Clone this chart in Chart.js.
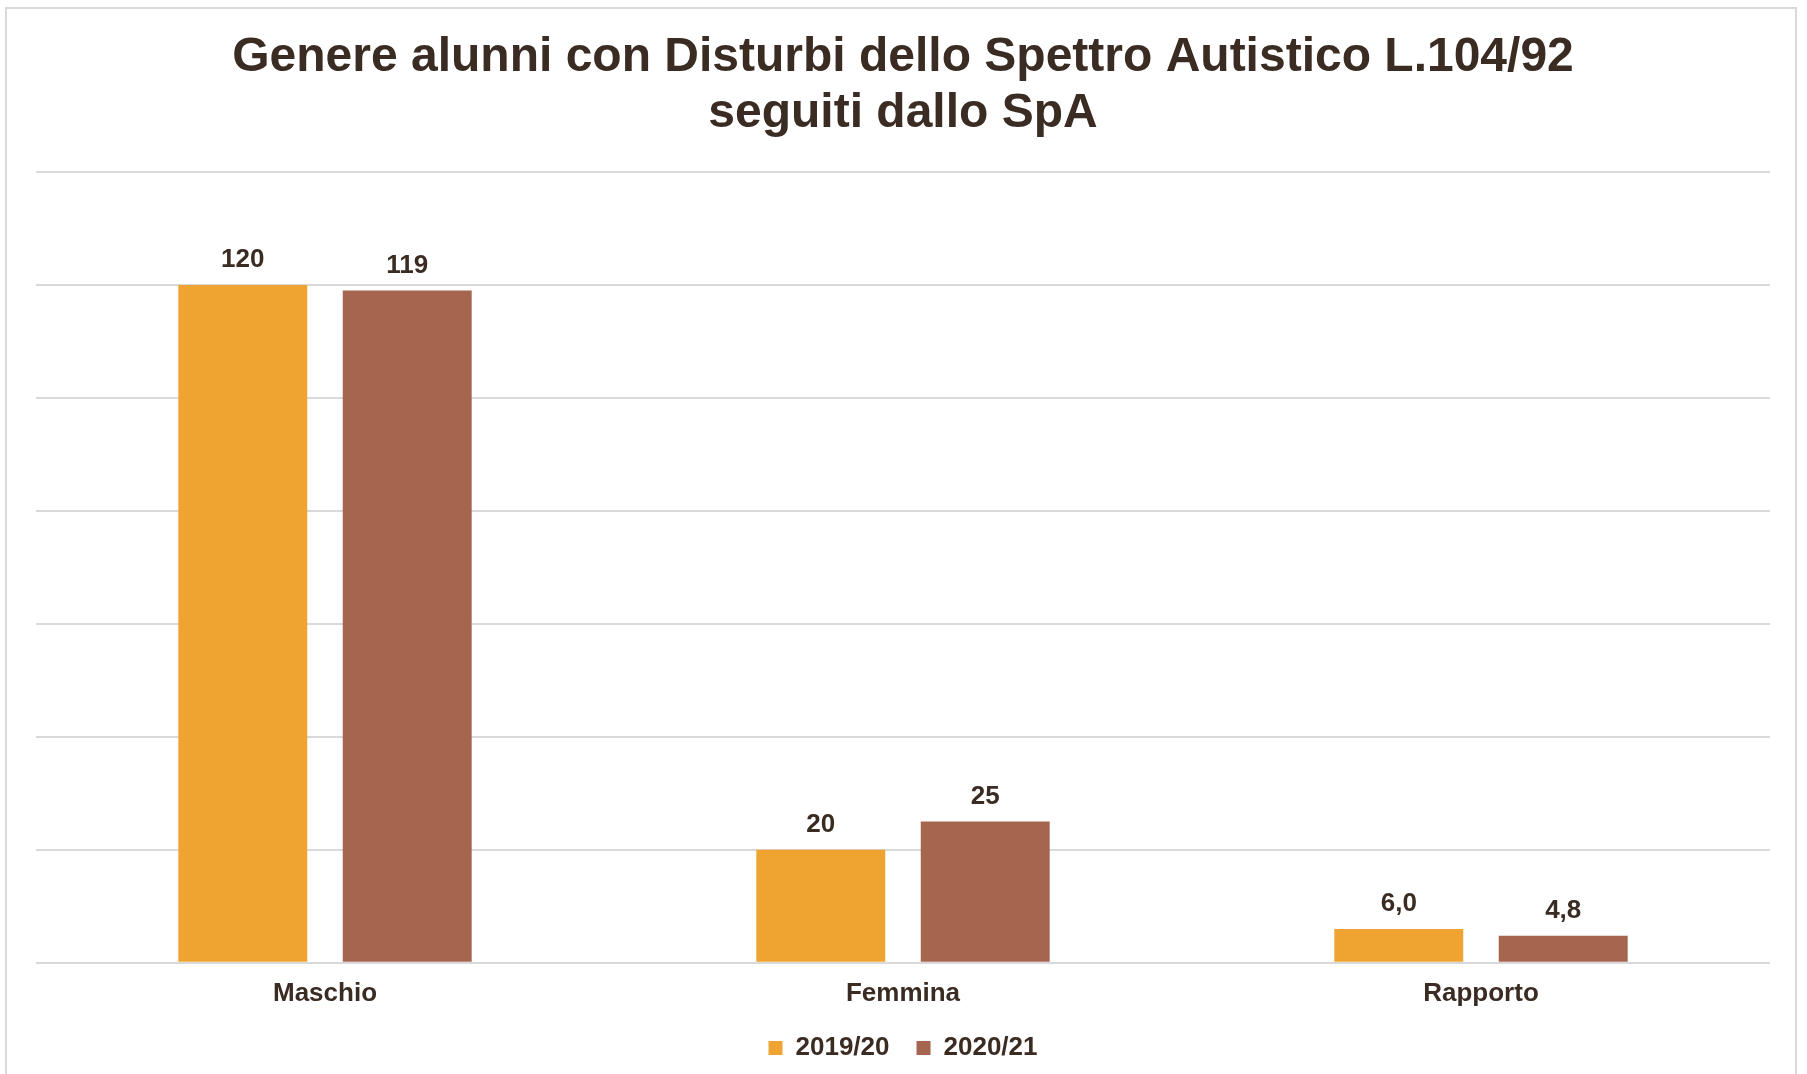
<!DOCTYPE html>
<html lang="it">
<head>
    <meta charset="UTF-8">
    <title>Genere alunni con Disturbi dello Spettro Autistico</title>
    <script src="https://cdn.jsdelivr.net/npm/chart.js"></script>
    <style>
        body { margin: 0; background: #fff; overflow: hidden; }
        .frame {
            position: absolute; left: 5px; top: 7px; width: 1792px; height: 1080px;
            border: 2px solid #d9d9d9; box-sizing: border-box;
        }
        .chart-container { position: absolute; left: 0; top: 0; width: 1807px; height: 1074px; }
    </style>
</head>
<body>
<div class="frame"></div>
<div class="chart-container">
    <canvas id="genere-chart"></canvas>
</div>
<script>
    // dati
    const categorie = ['Maschio', 'Femmina', 'Rapporto'];
    const anno2019 = [120, 20, 6.0];
    const anno2020 = [119, 25, 4.8];
    const decimali = [0, 0, 1];
    const yTicks = [0, 20, 40, 60, 80, 100, 120, 140];

    const testoScuro = '#3b2c23';

    // etichette sopra le barre
    const etichetteBarre = {
        id: 'etichetteBarre',
        afterDatasetsDraw(chart) {
            const ctx = chart.ctx;
            ctx.save();
            ctx.font = 'bold 26px "Liberation Sans", Arial, sans-serif';
            ctx.fillStyle = testoScuro;
            ctx.textAlign = 'center';
            ctx.textBaseline = 'alphabetic';
            chart.data.datasets.forEach((ds, i) => {
                chart.getDatasetMeta(i).data.forEach((bar, j) => {
                    const txt = ds.data[j].toFixed(decimali[j]).replace('.', ',');
                    ctx.fillText(txt, bar.x, bar.y - 18);
                });
            });
            ctx.restore();
        }
    };

    const ctx = document.getElementById('genere-chart').getContext('2d');
    new Chart(ctx, {
        type: 'bar',
        data: {
            labels: categorie,
            datasets: [{
                label: '2019/20',
                data: anno2019,
                backgroundColor: '#efa330'
            }, {
                label: '2020/21',
                data: anno2020,
                backgroundColor: '#a5654f'
            }]
        },
        options: {
            responsive: true,
            maintainAspectRatio: false,
            animation: false,
            datasets: {
                bar: { categoryPercentage: 0.569, barPercentage: 0.784 }
            },
            layout: { padding: { left: 36, right: 37, top: 0, bottom: 3 } },
            scales: {
                x: {
                    grid: { display: false, drawTicks: false },
                    border: { display: false },
                    afterFit: (scale) => { scale.height -= 16; },
                    ticks: {
                        padding: 15,
                        color: testoScuro,
                        font: { family: '"Liberation Sans", Arial, sans-serif', size: 26, weight: 'bold' }
                    }
                },
                y: {
                    min: 0,
                    max: 140,
                    afterBuildTicks: (scale) => { scale.ticks = yTicks.map(v => ({ value: v })); },
                    grid: { color: '#d9d9d9', lineWidth: 2, drawTicks: false },
                    border: { display: false },
                    ticks: { display: false }
                }
            },
            plugins: {
                title: {
                    display: true,
                    text: ['Genere alunni con Disturbi dello Spettro Autistico L.104/92', 'seguiti dallo SpA'],
                    color: testoScuro,
                    font: { family: '"Liberation Sans", Arial, sans-serif', size: 48, weight: 'bold', lineHeight: 1.1667 },
                    padding: { top: 30, bottom: 30 }
                },
                legend: {
                    position: 'bottom',
                    labels: {
                        boxWidth: 14,
                        boxHeight: 14,
                        padding: 27,
                        color: testoScuro,
                        font: { family: '"Liberation Sans", Arial, sans-serif', size: 26, weight: 'bold' }
                    }
                },
                tooltip: { enabled: false }
            }
        },
        plugins: [etichetteBarre]
    });
</script>
</body>
</html>
